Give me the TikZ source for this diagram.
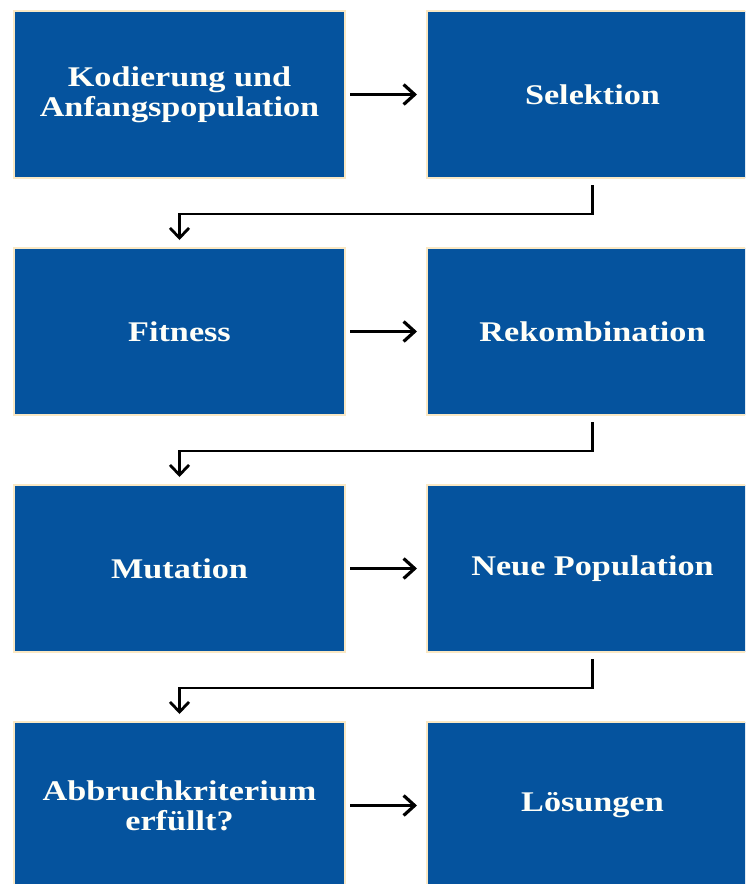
\documentclass[tikz,border=0pt]{standalone}
\usepackage{fontspec}
\newfontfamily\boxfont{Liberation Serif}[FakeStretch=1.2]
\usetikzlibrary{arrows.meta}
\definecolor{boxblue}{RGB}{5,83,158}
\definecolor{boxedge}{RGB}{250,232,196}
\definecolor{boxtext}{RGB}{255,255,248}
\tikzset{
  stepbox/.style={rectangle, fill=boxblue, draw=boxedge, line width=2pt,
    minimum width=331pt, minimum height=167pt, inner sep=0pt,
    anchor=north west, text=boxtext, align=center,
    font=\boxfont\bfseries\fontsize{28.5}{30}\selectfont},
  harrow/.style={line width=3.2pt, -{Straight Barb[length=11pt,width=20pt,line width=3.2pt]},
    shorten <=4pt, shorten >=9pt},
  elbow/.style={line width=2.8pt, -{Straight Barb[length=10pt,width=19pt,line width=2.8pt]},
    shorten <=6pt, shorten >=7pt}
}
\begin{document}
\begin{tikzpicture}[x=1pt,y=-1pt]
\fill[white] (0,0) rectangle (745,884);
\useasboundingbox (0,0) rectangle (745,884);
\clip (0,0) rectangle (745,884);
\node[stepbox] (kod) at (13,10) {Kodierung und\\Anfangspopulation};
\node[stepbox] (sel) at (426,10) {Selektion};
\node[stepbox] (fit) at (13,247) {Fitness};
\node[stepbox] (rek) at (426,247) {Rekombination};
\node[stepbox] (mut) at (13,484) {Mutation};
\node[stepbox] (neu) at (426,484) {Neue Population\vphantom{N}};
\node[stepbox] (abb) at (13,721) {Abbruchkriterium\\erfüllt?};
\node[stepbox] (loe) at (426,721) {Lösungen};
\draw[harrow] (kod.east) -- (sel.west);
\draw[harrow] (fit.east) -- (rek.west);
\draw[harrow] (mut.east) -- (neu.west);
\draw[harrow] (abb.east) -- (loe.west);
\draw[elbow] (sel.south) -- ++(0,35) -| (fit.north);
\draw[elbow] (rek.south) -- ++(0,35) -| (mut.north);
\draw[elbow] (neu.south) -- ++(0,35) -| (abb.north);
\end{tikzpicture}
\end{document}
